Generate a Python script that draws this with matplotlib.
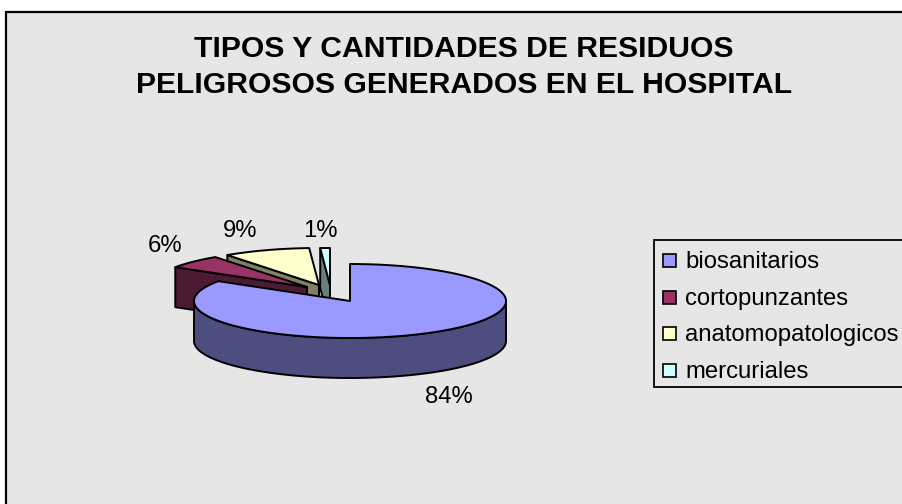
"""Pie 3D de residuos peligrosos del hospital, estilo Excel."""
import numpy as np
import matplotlib
matplotlib.use("Agg")
import matplotlib.pyplot as plt
from matplotlib.patches import Polygon, Rectangle

W, H = 903, 504

title = "TIPOS Y CANTIDADES DE RESIDUOS\nPELIGROSOS GENERADOS EN EL HOSPITAL"
categories = ["biosanitarios", "cortopunzantes", "anatomopatologicos", "mercuriales"]
values = [84, 6, 9, 1]

# estilo
top_colors = ["#9999FF", "#993366", "#FFFFCC", "#CCFFFF"]
side_colors = ["#4D4D80", "#4D1A33", "#808066", "#668080"]
explode_x = [0, -43, -31, -20]
explode_y = [0, -14, -16, -16]
label_pos = [(449, 403), (165, 252), (240, 237), (320, 237)]
CX, CY, RX, RY, DEPTH = 350, 301, 156, 37, 40

plt.rcParams["font.family"] = ["Liberation Sans", "DejaVu Sans"]

fig = plt.figure(figsize=(W / 100, H / 100), dpi=100, facecolor="white")
ax = fig.add_axes([0, 0, 1, 1])
ax.set_xlim(0, W)
ax.set_ylim(H, 0)
ax.axis("off")

ax.add_patch(Rectangle((6, 12), W + 20, H + 20, fc="#E6E6E6", ec="black", lw=1.6, zorder=0))


def arc(cx, cy, t0, t1):
    """Puntos del borde de la elipse; angulos en grados, horario desde las 12."""
    t = np.radians(np.linspace(t0, t1, max(int(abs(t1 - t0)) * 2, 2)))
    return np.column_stack([cx + RX * np.sin(t), cy - RY * np.cos(t)])


def draw_slice(i, t0, t1, z):
    cx = CX + explode_x[i]
    cy = CY + explode_y[i]
    style = dict(ec="black", lw=1.4, joinstyle="round", zorder=z)
    if i == 0:
        # pared exterior frontal
        front = arc(cx, cy, 90, 270)
        wall = np.vstack([front, front[::-1] + [0, DEPTH]])
        ax.add_patch(Polygon(wall, fc=side_colors[i], **style))
    else:
        # cara radial visible
        p = arc(cx, cy, t0, t0)[0]
        face = [(cx, cy), p, (p[0], p[1] + DEPTH), (cx, cy + DEPTH)]
        ax.add_patch(Polygon(face, fc=side_colors[i], **style))
    top = np.vstack([[(cx, cy)], arc(cx, cy, t0, t1)])
    ax.add_patch(Polygon(top, fc=top_colors[i], **style))


angles = np.cumsum([0] + values) * 3.6
for z, i in enumerate([3, 2, 1, 0]):
    draw_slice(i, angles[i], angles[i + 1], z + 2)

for v, (x, y) in zip(values, label_pos):
    ax.text(x, y, f"{v}%", fontsize=17.2, ha="center", va="baseline", zorder=10)

ax.text(464, 67, title, fontsize=21.7, fontweight="bold", ha="center", va="center",
        linespacing=1.38, zorder=10)

# leyenda
ax.add_patch(Rectangle((654, 240), W + 20, 147, fc="#E6E6E6", ec="black", lw=1.3, zorder=8))
for k, (name, col) in enumerate(zip(categories, top_colors)):
    y = 260.5 + k * 36.5
    ax.add_patch(Rectangle((663, y - 6.5), 13, 13, fc=col, ec="black", lw=1.2, zorder=9))
    ax.text(685, y + 8, name, fontsize=17.2, va="baseline", ha="left", zorder=10)

fig.savefig("out.png", dpi=100)
